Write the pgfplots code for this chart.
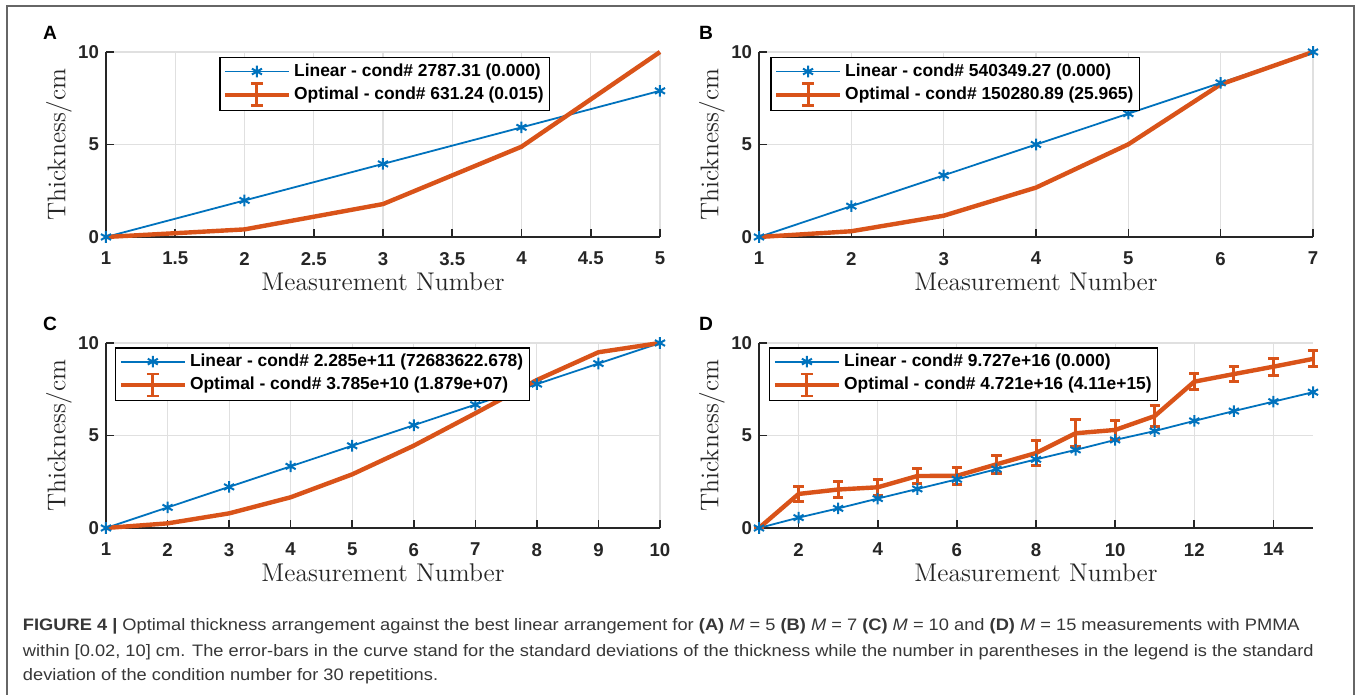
\documentclass[border=0pt]{standalone}
\usepackage{fontspec}
\usepackage{pgfplots}
\pgfplotsset{compat=1.18}
\newfontfamily\arial{Liberation Sans}
\newfontfamily\capfont[FakeStretch=1.1]{Liberation Sans}
\definecolor{mblue}{RGB}{0,114,189}
\definecolor{morange}{RGB}{217,83,25}
\definecolor{axgray}{RGB}{38,38,38}
\definecolor{capgray}{RGB}{55,55,55}

\pgfplotsset{
  panel/.style={
    scale only axis, width=277pt, height=92.5pt,
    axis x line*=bottom, axis y line*=left,
    ymin=0, ymax=10, ytick={0,5,10},
    tick align=inside, major tick length=4pt,
    grid=major, major grid style={line width=0.6pt, color=black!12},
    axis line style={line width=0.8pt, color=axgray},
    tick style={line width=0.8pt, color=axgray},
    ticklabel style={font=\arial\bfseries\fontsize{9.3}{11}\selectfont, text=axgray},
    /pgf/number format/assume math mode=true,
    xticklabel style={yshift=-4pt},
    xlabel={Measurement Number}, ylabel={Thickness/cm},
    label style={font=\fontsize{12.8}{15}\selectfont, text=axgray},
    xlabel style={at={(axis description cs:0.5,-0.24)}, anchor=center},
    ylabel style={at={(axis description cs:-0.085,0.5)}, anchor=center},
    clip=false,
    legend cell align=left,
    legend style={draw=black, line width=0.75pt, anchor=north west,
      font=\arial\bfseries\fontsize{8.7}{10}\selectfont,
      inner xsep=1.5pt, inner ysep=1.5pt, row sep=0pt,
      nodes={inner sep=1.5pt}},
  },
  lin/.style={color=mblue, line width=0.9pt, mark=asterisk, mark size=2.9pt,
    mark options={line width=1pt, solid},
    legend image code/.code={\draw[mark repeat=2, mark phase=2, ##1]
      plot coordinates {(0pt,0pt) (16pt,0pt) (32pt,0pt)};}},
  opt/.style={color=morange, line width=2.2pt,
    legend image code/.code={\draw[##1] (0pt,0pt) -- (32pt,0pt);
      \draw[##1, line width=1.5pt] (16pt,-5.5pt) -- (16pt,5.5pt);
      \draw[##1, line width=1.4pt] (13pt,5.5pt) -- (19pt,5.5pt) (13pt,-5.5pt) -- (19pt,-5.5pt);}},
}

\begin{document}
\begin{tikzpicture}
\useasboundingbox (0,0) rectangle (680pt,347.5pt);
\fill[white] (0,0) rectangle (680pt,347.5pt);
\draw[black!60, line width=0.8pt] (3.5pt,0) -- (3.5pt,344.5pt) -- (677pt,344.5pt) -- (677pt,0);

% A
\begin{axis}[panel, at={(53pt,229pt)}, anchor=south west,
  xmin=1, xmax=5, xtick={1,1.5,...,5},
  legend style={at={(axis description cs:0.204,0.973)}}]
\addplot[lin] coordinates {(1,0) (2,1.975) (3,3.95) (4,5.925) (5,7.9)};
\addlegendentry{Linear - cond\# 2787.31 (0.000)}
\addplot[opt] coordinates {(1,0) (2,0.41) (3,1.78) (4,4.88) (5,10)};
\addlegendentry{Optimal - cond\# 631.24 (0.015)}
\end{axis}

% B
\begin{axis}[panel, at={(379.5pt,229pt)}, anchor=south west,
  xmin=1, xmax=7, xtick={1,...,7},
  legend style={at={(axis description cs:0.02,0.973)}}]
\addplot[lin] coordinates {(1,0) (2,1.667) (3,3.333) (4,5) (5,6.667) (6,8.333) (7,10)};
\addlegendentry{Linear - cond\# 540349.27 (0.000)}
\addplot[opt] coordinates {(1,0) (2,0.31) (3,1.15) (4,2.67) (5,5.01) (6,8.25) (7,10)};
\addlegendentry{Optimal - cond\# 150280.89 (25.965)}
\end{axis}

% C
\begin{axis}[panel, at={(53pt,83.5pt)}, anchor=south west,
  xmin=1, xmax=10, xtick={1,...,10},
  legend style={at={(axis description cs:0.016,0.978)}}]
\addplot[lin] coordinates {(1,0) (2,1.111) (3,2.222) (4,3.333) (5,4.444) (6,5.556) (7,6.667) (8,7.778) (9,8.889) (10,10)};
\addlegendentry{Linear - cond\# 2.285e+11 (72683622.678)}
\addplot[opt] coordinates {(1,0) (2,0.25) (3,0.79) (4,1.66) (5,2.9) (6,4.45) (7,6.2) (8,8.0) (9,9.5) (10,10)};
\addlegendentry{Optimal - cond\# 3.785e+10 (1.879e+07)}
\end{axis}

% D
\begin{axis}[panel, at={(379.5pt,83.5pt)}, anchor=south west,
  xmin=1, xmax=15, xtick={2,4,...,14},
  legend style={at={(axis description cs:0.018,0.978)}}]
\addplot[lin] coordinates {(1,0) (2,0.56) (3,1.06) (4,1.59) (5,2.11) (6,2.63) (7,3.18) (8,3.71) (9,4.22) (10,4.76) (11,5.24) (12,5.79) (13,6.32) (14,6.83) (15,7.34)};
\addlegendentry{Linear - cond\# 9.727e+16 (0.000)}
\addplot[opt, error bars/.cd, y dir=both, y explicit,
  error bar style={line width=1.5pt, color=morange},
  error mark options={rotate=90, mark size=2.6pt, line width=1.5pt, color=morange}]
  coordinates {(1,0) +- (0,0) (2,1.84) +- (0,0.42) (3,2.08) +- (0,0.45) (4,2.2) +- (0,0.42)
  (5,2.81) +- (0,0.42) (6,2.82) +- (0,0.47) (7,3.44) +- (0,0.47) (8,4.05) +- (0,0.67)
  (9,5.12) +- (0,0.73) (10,5.3) +- (0,0.5) (11,6.05) +- (0,0.56) (12,7.91) +- (0,0.44)
  (13,8.32) +- (0,0.41) (14,8.72) +- (0,0.46) (15,9.14) +- (0,0.43)};
\addlegendentry{Optimal - cond\# 4.721e+16 (4.11e+15)}
\end{axis}

% panel letters
\begin{scope}[every node/.style={anchor=base, font=\arial\bfseries\fontsize{9.6}{11}\selectfont}]
\node at (25pt,327.5pt) {A};
\node at (353pt,327.5pt) {B};
\node at (25pt,182pt) {C};
\node at (353pt,182pt) {D};
\end{scope}

% caption
\begin{scope}[every node/.style={anchor=base west, inner sep=0pt, text=capgray,
    font=\capfont\fontsize{8.3}{10}\selectfont}]
\node at (11.3pt,32pt) {{\bfseries FIGURE 4 |} Optimal thickness arrangement against the best linear arrangement for {\bfseries (A)} \textit{M} = 5 {\bfseries (B)} \textit{M} = 7 {\bfseries (C)} \textit{M} = 10 and {\bfseries (D)} \textit{M} = 15 measurements with PMMA};
\node at (11.3pt,19pt) {within [0.02, 10] cm. The error-bars in the curve stand for the standard deviations of the thickness while the number in parentheses in the legend is the standard};
\node at (11.3pt,7pt) {deviation of the condition number for 30 repetitions.};
\end{scope}
\end{tikzpicture}
\end{document}
